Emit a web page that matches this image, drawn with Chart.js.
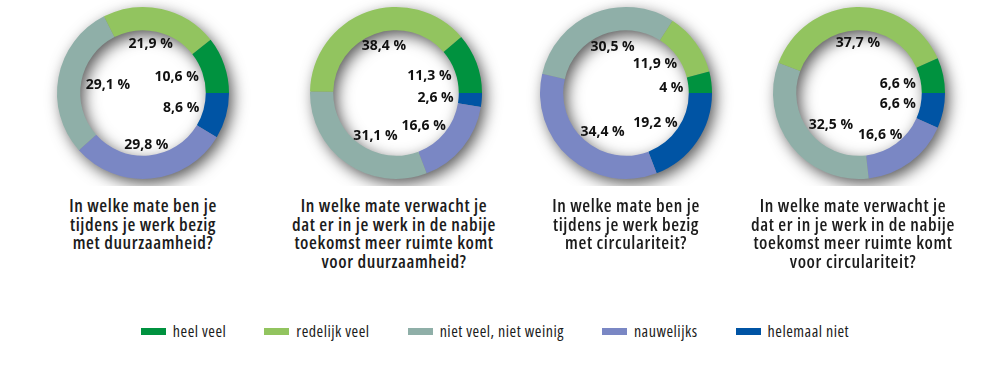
<!DOCTYPE html>
<html>
<head>
<meta charset="utf-8">
<script src="https://cdn.jsdelivr.net/npm/chart.js@4/dist/chart.umd.min.js"></script>
<style>
  html, body { margin: 0; padding: 0; background: #fff; }
  body { width: 1000px; height: 386px; position: relative; overflow: hidden; }
  .col { position: absolute; top: 0; width: 240px; }
  .title {
    position: absolute; top: 196px; width: 240px;
    font-family: "Open Sans", sans-serif; font-stretch: 75%;
    font-weight: 600; font-size: 18px; line-height: 18.7px; letter-spacing: 0.6px;
    color: #1c1c1c; text-align: center; white-space: nowrap;
  }
  #legend {
    position: absolute; top: 321px; left: 0; width: 990px;
    display: flex; justify-content: center; align-items: center;
    font-family: "Open Sans", sans-serif; font-stretch: 75%;
    font-size: 16px; line-height: 20px; letter-spacing: 0.5px;
    color: #1c1c1c; white-space: nowrap;
  }
  .item { display: flex; align-items: center; margin: 0 19px; }
  .box { width: 25px; height: 7px; margin-right: 7px; }
</style>
</head>
<body>
<div id="charts"></div>
<div id="legend"></div>
<script>
'use strict';

// answer categories, in the order of the legend
let categories = ['heel veel', 'redelijk veel', 'niet veel, niet weinig', 'nauwelijks', 'helemaal niet'];
let colors = ['#00923f', '#92c45f', '#8fafa8', '#7a87c4', '#0054a4'];

// percentages per question
let duurzaamNu = [10.6, 21.9, 29.1, 29.8, 8.6];
let duurzaamToekomst = [11.3, 38.4, 31.1, 16.6, 2.6];
let circulairNu = [4, 11.9, 30.5, 34.4, 19.2];
let circulairToekomst = [6.6, 37.7, 32.5, 16.6, 6.6];

let titles = [
    ['In welke mate ben je', 'tijdens je werk bezig', 'met duurzaamheid?'],
    ['In welke mate verwacht je', 'dat er in je werk in de nabije', 'toekomst meer ruimte komt', 'voor duurzaamheid?'],
    ['In welke mate ben je', 'tijdens je werk bezig', 'met circulariteit?'],
    ['In welke mate verwacht je', 'dat er in je werk in de nabije', 'toekomst meer ruimte komt', 'voor circulariteit?']
];

let allSeries = [duurzaamNu, duurzaamToekomst, circulairNu, circulairToekomst];
let centersX = [143, 396, 626, 859];
let titleShift = [0, -2, 0, -6];

function formatPct(v) {
    return String(v).replace('.', ',') + ' %';
}

// shadow under the ring (outside bottom right, inside the hole top left)
let ringShadow = {
    id: 'ringShadow',
    beforeDatasetsDraw(chart) {
        let arc = chart.getDatasetMeta(0).data[0];
        let ctx = chart.ctx;
        ctx.save();
        ctx.shadowColor = 'rgba(0, 0, 0, 0.7)';
        ctx.shadowBlur = 16;
        ctx.shadowOffsetX = 4;
        ctx.shadowOffsetY = 5;
        ctx.beginPath();
        ctx.arc(arc.x, arc.y, arc.outerRadius - 1, 0, Math.PI * 2);
        ctx.arc(arc.x, arc.y, arc.innerRadius + 1, 0, Math.PI * 2, true);
        ctx.fillStyle = '#888';
        ctx.fill();
        ctx.restore();
    }
};

// percentage labels inside the hole, next to their segment
let innerLabels = {
    id: 'innerLabels',
    afterDatasetsDraw(chart) {
        let ctx = chart.ctx;
        let meta = chart.getDatasetMeta(0);
        let values = chart.data.datasets[0].data;
        ctx.save();
        ctx.font = 'bold 14px "Open Sans", sans-serif';
        ctx.fillStyle = '#111';
        ctx.textAlign = 'center';
        ctx.textBaseline = 'middle';
        meta.data.forEach(function (arc, i) {
            let mid = (arc.startAngle + arc.endAngle) / 2;
            let text = formatPct(values[i]);
            let w = ctx.measureText(text).width;
            let rx = arc.innerRadius - w / 2 - 5;
            let ry = arc.innerRadius - 5 - 7;
            let x = arc.x + Math.cos(mid) * rx;
            let y = arc.y + Math.sin(mid) * ry;
            ctx.fillText(text, x, y + 1);
        });
        ctx.restore();
    }
};

let chartsEl = document.getElementById('charts');

for (let i = 0; i < allSeries.length; i++) {
    let col = document.createElement('div');
    col.className = 'col';
    col.style.left = (centersX[i] - 120) + 'px';
    let canvas = document.createElement('canvas');
    canvas.width = 240;
    canvas.height = 186;
    col.appendChild(canvas);
    let titleEl = document.createElement('div');
    titleEl.className = 'title';
    titleEl.style.left = titleShift[i] + 'px';
    titleEl.innerHTML = titles[i].join('<br>');
    col.appendChild(titleEl);
    chartsEl.appendChild(col);

    // counter-clockwise from 3 o'clock = reversed order clockwise
    let data = allSeries[i].slice().reverse();
    let bg = colors.slice().reverse();
    let labels = categories.slice().reverse();

    new Chart(canvas.getContext('2d'), {
        type: 'doughnut',
        data: {
            labels: labels,
            datasets: [{
                data: data,
                backgroundColor: bg,
                borderWidth: 0
            }]
        },
        options: {
            responsive: false,
            animation: false,
            rotation: 90,
            cutout: '73%',
            layout: { padding: 7 },
            plugins: {
                legend: { display: false },
                tooltip: { enabled: false }
            }
        },
        plugins: [ringShadow, innerLabels]
    });
}

let legendEl = document.getElementById('legend');
for (let i = 0; i < categories.length; i++) {
    let item = document.createElement('div');
    item.className = 'item';
    let box = document.createElement('span');
    box.className = 'box';
    box.style.background = colors[i];
    let label = document.createElement('span');
    label.textContent = categories[i];
    item.appendChild(box);
    item.appendChild(label);
    legendEl.appendChild(item);
}
</script>
</body>
</html>
